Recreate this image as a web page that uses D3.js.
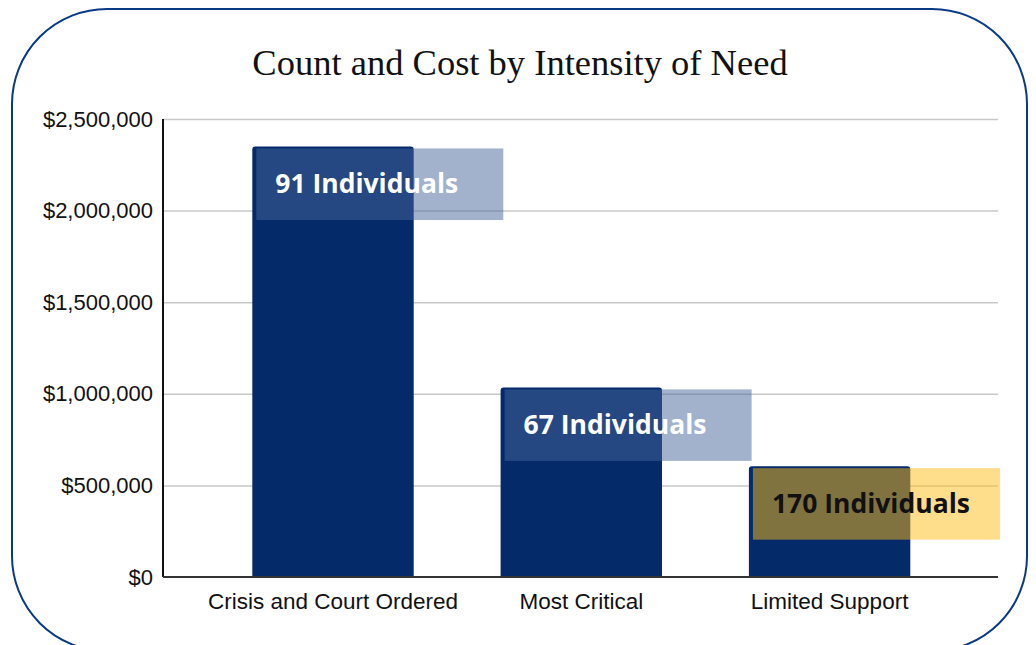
<!DOCTYPE html>
<html><head><meta charset="utf-8">
<script src="https://cdn.jsdelivr.net/npm/d3@7"></script>
<style>html,body{margin:0;padding:0;background:#fff;}svg{display:block;}</style>
</head><body>
<svg id="c" width="1036" height="645"></svg>
<script>
const categories = ["Crisis and Court Ordered", "Most Critical", "Limited Support"];
const costs = [2350000, 1035000, 605000];
const counts = [91, 67, 170];
const labelText = counts.map(n => n + " Individuals");
const tickValues = [0, 500000, 1000000, 1500000, 2000000, 2500000];

const svg = d3.select("#c");
svg.append("rect").attr("x", 12).attr("y", 9).attr("width", 1015).attr("height", 642)
  .attr("rx", 95).attr("ry", 95).attr("fill", "#fff").attr("stroke", "#0b3a82").attr("stroke-width", 2);

svg.append("text").attr("x", 520).attr("y", 75).attr("text-anchor", "middle")
  .attr("font-family", "'Liberation Serif','Times New Roman',serif").attr("font-size", 36.5)
  .attr("fill", "#111").text("Count and Cost by Intensity of Need");

const x0 = 163, x1 = 998, yTop = 119, yBot = 577;
const y = d3.scaleLinear().domain([0, 2500000]).range([yBot, yTop]);
const step = 248.3;
const x = d3.scaleBand().domain(categories).range([333 - step / 2, 829.6 + step / 2])
  .paddingInner(0.35).paddingOuter(0.175);

// gridlines
const grid = d3.axisLeft(y).tickValues(tickValues.slice(1)).tickSize(-(x1 - x0)).tickFormat("");
svg.append("g").attr("transform", `translate(${x0},0)`).call(grid)
  .call(g => g.select(".domain").remove())
  .call(g => g.selectAll("line").attr("stroke", "#c8c8c8").attr("stroke-width", 1.5));

// y axis labels
const yAxis = d3.axisLeft(y).tickValues(tickValues).tickSize(0).tickPadding(10)
  .tickFormat(d => "$" + d3.format(",")(d));
svg.append("g").attr("transform", `translate(${x0},0)`).call(yAxis)
  .call(g => g.select(".domain").remove())
  .call(g => g.selectAll("text").attr("font-family", "'Liberation Sans',Arial,sans-serif")
    .attr("font-size", 22).attr("fill", "#111"));

// bars
const data = categories.map((c, i) => ({c, v: costs[i], n: counts[i], t: labelText[i], i}));
const r = 3;
svg.append("g").selectAll("path").data(data).join("path")
  .attr("d", d => {
    const l = x(d.c), w = x.bandwidth(), t = y(d.v), b = y(0);
    return `M${l},${b}V${t + r}Q${l},${t} ${l + r},${t}H${l + w - r}Q${l + w},${t} ${l + w},${t + r}V${b}Z`;
  })
  .attr("fill", "#042a69");

// axes lines
svg.append("line").attr("x1", x0).attr("x2", x0).attr("y1", yTop).attr("y2", yBot)
  .attr("stroke", "#111").attr("stroke-width", 2);
svg.append("line").attr("x1", x0).attr("x2", x1).attr("y1", yBot).attr("y2", yBot)
  .attr("stroke", "#333").attr("stroke-width", 2);

// x axis labels
const xAxis = d3.axisBottom(x).tickSize(0).tickPadding(16);
svg.append("g").attr("transform", `translate(0,${yBot})`).call(xAxis)
  .call(g => g.select(".domain").remove())
  .call(g => g.selectAll("text").attr("font-family", "'Liberation Sans',Arial,sans-serif")
    .attr("font-size", 22.5).attr("fill", "#111"));

// label boxes
const boxFill = ["rgba(70,102,155,0.5)", "rgba(70,102,155,0.5)", "rgba(253,188,24,0.5)"];
const textFill = ["#fff", "#fff", "#111"];
const lab = svg.append("g").selectAll("g").data(data).join("g")
  .attr("transform", d => `translate(${x(d.c) + 4},${y(d.v) + 2})`);
lab.append("rect").attr("width", 247).attr("height", 71.5).attr("fill", d => boxFill[d.i]);
lab.append("text").attr("x", 19).attr("y", 45)
  .attr("font-family", "'Open Sans','Noto Sans',sans-serif").attr("font-weight", 700)
  .attr("font-size", 26.5).attr("fill", d => textFill[d.i]).text(d => d.t);
</script>
</body></html>
